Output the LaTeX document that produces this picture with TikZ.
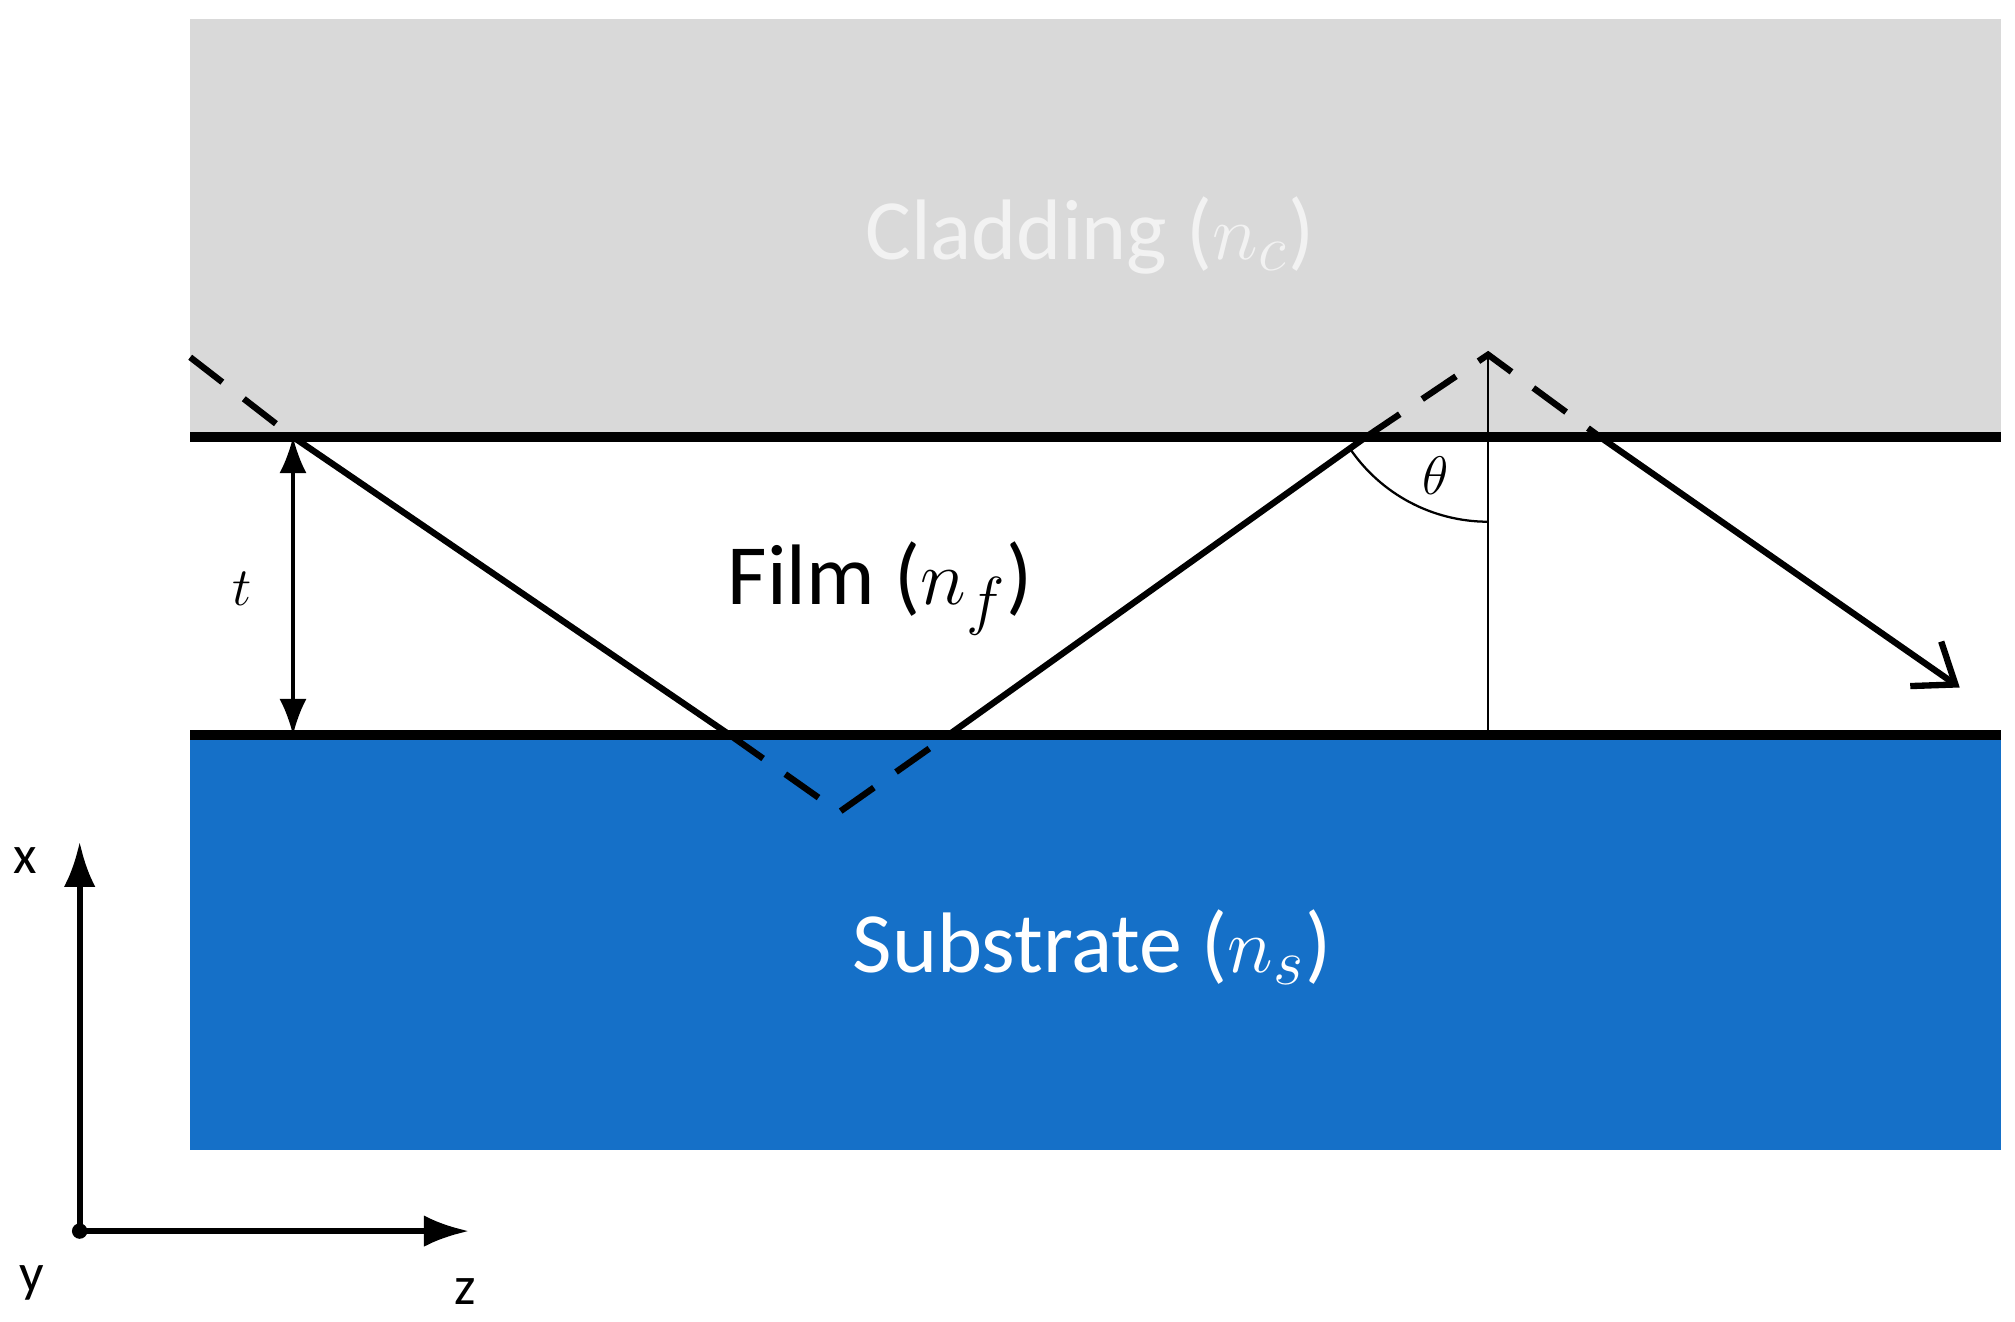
\documentclass[tikz,border=0pt]{standalone}
\usepackage{fontspec}
\setmainfont{Carlito}
\usetikzlibrary{arrows.meta}
\definecolor{clad}{HTML}{D9D9D9}
\definecolor{subs}{HTML}{1570C8}
\begin{document}
\begin{tikzpicture}[x=0.01cm,y=-0.01cm,
  iface/.style={line width=2.2pt},
  ray/.style={line width=1.4pt},
  rayd/.style={line width=1.4pt,dash pattern=on 9pt off 6pt},
  big/.style={font=\fontsize{19}{22}\selectfont},
  small/.style={font=\fontsize{12}{14}\selectfont}]
\useasboundingbox (0,0) rectangle (1568,1028);
\fill[clad] (148,15) rectangle (1557,340);
\fill[subs] (148,572) rectangle (1557,895);
\coordinate (L1) at (148,340); \coordinate (R1) at (1557,340);
\coordinate (L2) at (148,572); \coordinate (R2) at (1557,572);
\draw[iface] (L1) -- (R1);
\draw[iface] (L2) -- (R2);
\coordinate (s0) at (148,278);
\coordinate (a) at (228,340);
\coordinate (b) at (568,572);
\coordinate (v1) at (653,632);
\coordinate (c) at (738,572);
\coordinate (d) at (1063,340);
\coordinate (v2) at (1158,276);
\coordinate (e) at (1245,340);
\coordinate (f) at (1525,535);
\coordinate (vb) at (1158,572);
\draw[rayd] (s0) -- (a);
\draw[ray] (a) -- (b);
\draw[rayd] (b) -- (v1) -- (c);
\draw[ray] (c) -- (d);
\draw[rayd] (d) -- (v2) -- (e);
\draw[ray,-{Straight Barb[length=8pt,width=12pt]}] (e) -- (f);
\draw[line width=0.6pt] (v2) -- (vb);
\draw[line width=0.5pt] (v2) ++(146:130) arc[start angle=146,end angle=90,radius=130];
\node[small] (th) at (1117,370) {$\theta$};
\coordinate (ta) at (228,340); \coordinate (tb) at (228,572);
\draw[line width=0.7pt,{Latex[length=8pt,width=6pt]}-{Latex[length=8pt,width=6pt]}] (ta) -- (tb);
\node[small] (t) at (188,458) {$t$};
\node[big,text=white!95!black] (clt) at (848,183) {Cladding ($n_c$)};
\node[big] (fl) at (685,458) {Film ($n_f$)};
\node[big,text=white] (sb) at (850,737) {Substrate ($n_s$)};
\coordinate (o) at (62,958);
\coordinate (xa) at (62,655);
\coordinate (za) at (365,958);
\draw[line width=1.3pt,-{Latex[length=10pt,width=7pt]}] (o) -- (xa);
\draw[line width=1.3pt,-{Latex[length=10pt,width=7pt]}] (o) -- (za);
\fill (o) circle (6);
\node[small] (xl) at (20,670) {x};
\node[small] (yl) at (25,998) {y};
\node[small] (zl) at (362,1005) {z};
\end{tikzpicture}
\end{document}
